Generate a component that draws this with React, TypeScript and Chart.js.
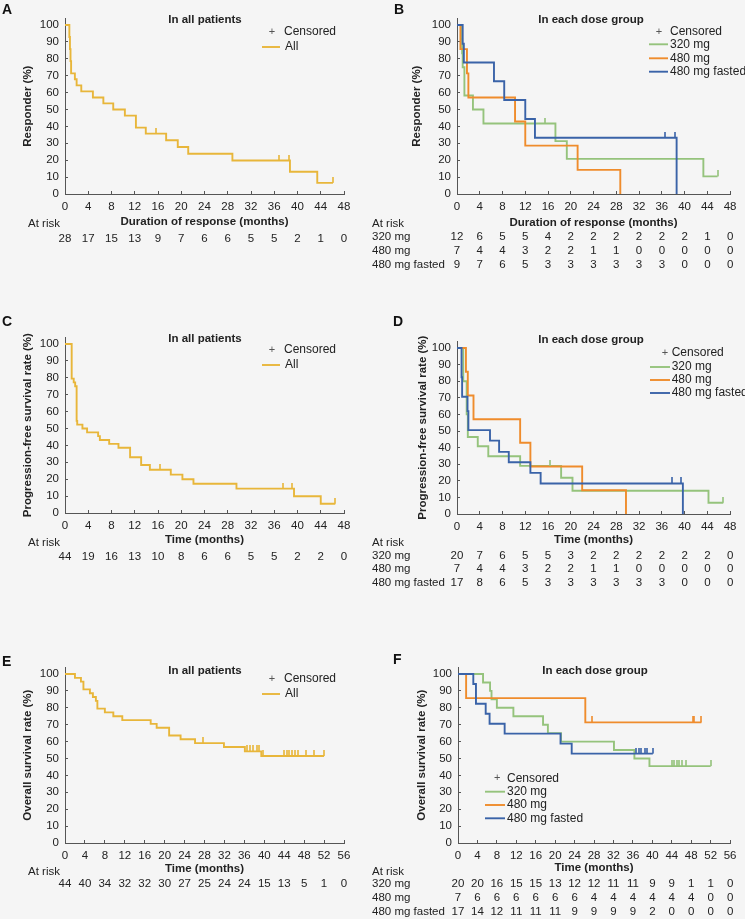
import React, { useEffect, useRef } from "react";
import { Chart, registerables } from "chart.js";

Chart.register(...registerables);

const FONT = '"Liberation Sans", Arial, Helvetica, sans-serif';
const BG = "#f5f5f5";
const AXIS = "#555555";
const TEXT = "#222222";

const C_ALL = "#e8b63a";
const C_320 = "#95c37c";
const C_480 = "#ef8c2c";
const C_FAST = "#3a63a8";

// ---- tick labels ----
const yTicks = [0, 10, 20, 30, 40, 50, 60, 70, 80, 90, 100];
const xTicks48 = [0, 4, 8, 12, 16, 20, 24, 28, 32, 36, 40, 44, 48];
const xTicks56 = [0, 4, 8, 12, 16, 20, 24, 28, 32, 36, 40, 44, 48, 52, 56];
const Y_MAX = 104;

// ---- Panel A: duration of response, all patients ----
const aTimes = [0, 0.75, 0.85, 0.95, 1.05, 1.7, 2.0, 2.8, 4.8, 6.6, 8.3, 10.3, 12.2, 13.9, 17.4, 19.4, 21.2, 28.8, 38.7, 43.4, 46.1];
const aSurv = [100, 92.9, 85.7, 78.6, 71.4, 67.9, 64.3, 60.7, 57.1, 53.6, 50.0, 46.4, 39.3, 35.7, 31.8, 27.8, 23.8, 19.8, 13.2, 6.6, 6.6];
const aCens = [15.6, 36.8, 38.5, 46.1];
const aRisk = [28, 17, 15, 13, 9, 7, 6, 6, 5, 5, 2, 1, 0];

// ---- Panel B: duration of response, dose groups ----
const b320Times = [0, 0.7, 0.9, 1.0, 1.3, 2.8, 4.65, 17.3, 19.3, 43.3, 45.8];
const b320Surv = [100, 91.7, 83.3, 75.0, 58.3, 50.0, 41.7, 31.3, 20.8, 10.4, 10.4];
const b320Cens = [15.5, 45.8];
const b480Times = [0, 0.6, 1.75, 2.0, 10.2, 12.0, 21.2, 28.7];
const b480Surv = [100, 85.7, 71.4, 57.1, 42.9, 28.6, 14.3, 0];
const b480Cens: number[] = [];
const bFastTimes = [0, 1.0, 1.2, 6.5, 8.3, 12.0, 13.7, 38.6];
const bFastSurv = [100, 88.9, 77.8, 66.7, 55.6, 44.4, 33.3, 0];
const bFastCens = [36.6, 38.3];
const bRisk320 = [12, 6, 5, 5, 4, 2, 2, 2, 2, 2, 2, 1, 0];
const bRisk480 = [7, 4, 4, 3, 2, 2, 1, 1, 0, 0, 0, 0, 0];
const bRiskFast = [9, 7, 6, 5, 3, 3, 3, 3, 3, 3, 0, 0, 0];

// ---- Panel C: PFS, all patients ----
const cTimes = [0, 1.15, 1.5, 1.75, 2.0, 2.1, 3.0, 3.8, 5.7, 6.0, 7.6, 9.2, 11.2, 13.1, 14.6, 18.2, 20.2, 22.1, 29.5, 39.4, 44.0, 46.5];
const cSurv = [100, 79.5, 77.3, 75.0, 54.5, 52.3, 50.0, 47.7, 45.5, 43.2, 40.9, 38.6, 33.0, 28.4, 25.6, 22.7, 20.0, 17.3, 14.4, 9.9, 5.5, 5.5];
const cCens = [16.4, 37.5, 39.1, 46.5];
const cRisk = [44, 19, 16, 13, 10, 8, 6, 6, 5, 5, 2, 2, 0];

// ---- Panel D: PFS, dose groups ----
const d320Times = [0, 1.1, 1.7, 1.9, 3.65, 5.5, 11.1, 18.3, 20.3, 44.2, 46.8];
const d320Surv = [100, 80.0, 60.0, 46.4, 40.8, 34.8, 29.0, 21.8, 14.0, 6.8, 6.8];
const d320Cens = [16.3, 46.8];
const d480Times = [0, 1.57, 1.9, 2.9, 11.1, 12.9, 22.0, 29.7];
const d480Surv = [100, 85.7, 71.4, 57.1, 42.9, 28.6, 14.3, 0];
const d480Cens: number[] = [];
const dFastTimes = [0, 0.8, 0.9, 1.85, 2.0, 5.8, 7.4, 9.1, 12.9, 14.7, 39.7];
const dFastSurv = [100, 82.4, 70.6, 62.0, 50.5, 44.2, 37.4, 31.2, 24.8, 18.4, 0];
const dFastCens = [37.7, 39.3];
const dRisk320 = [20, 7, 6, 5, 5, 3, 2, 2, 2, 2, 2, 2, 0];
const dRisk480 = [7, 4, 4, 3, 2, 2, 1, 1, 0, 0, 0, 0, 0];
const dRiskFast = [17, 8, 6, 5, 3, 3, 3, 3, 3, 3, 0, 0, 0];

// ---- Panel E: OS, all patients ----
const eTimes = [0, 2.0, 3.2, 3.7, 5.0, 5.6, 6.2, 6.5, 8.0, 9.7, 11.5, 17.2, 18.4, 20.9, 23.2, 26.1, 31.9, 36.1, 39.4, 52.0];
const eSurv = [100, 97.7, 95.5, 90.9, 88.6, 86.4, 84.1, 79.5, 77.3, 75.0, 72.7, 70.5, 68.2, 63.6, 61.4, 59.1, 56.8, 54.2, 51.5, 51.5];
const eCens = [27.6, 36.6, 37.2, 37.7, 38.5, 39.0, 39.8, 44.0, 44.5, 45.0, 45.6, 46.2, 46.7, 48.4, 50.0, 52.0];
const eRisk = [44, 40, 34, 32, 32, 30, 27, 25, 24, 24, 15, 13, 5, 1, 0];

// ---- Panel F: OS, dose groups ----
const f320Times = [0, 5.15, 6.6, 6.9, 8.0, 11.4, 17.5, 18.5, 21.2, 32.1, 36.3, 39.4, 52.0];
const f320Surv = [100, 95, 90, 85, 80, 75, 70, 65, 60, 55, 50, 45.5, 45.5];
const f320Cens = [44.0, 44.5, 45.0, 45.5, 46.0, 46.9, 52.0];
const f480Times = [0, 1.67, 26.2, 50.1];
const f480Surv = [100, 85.7, 71.4, 71.4];
const f480Cens = [27.6, 48.3, 48.6, 50.1];
const fFastTimes = [0, 3.15, 3.7, 5.7, 6.5, 9.6, 21.1, 23.4, 40.1];
const fFastSurv = [100, 94.1, 82.4, 76.5, 70.6, 64.7, 58.8, 52.9, 52.9];
const fFastCens = [36.7, 37.2, 37.7, 38.4, 38.9, 40.1];
const fRisk320 = [20, 20, 16, 15, 15, 13, 12, 12, 11, 11, 9, 9, 1, 1, 0];
const fRisk480 = [7, 6, 6, 6, 6, 6, 6, 4, 4, 4, 4, 4, 4, 0, 0];
const fRiskFast = [17, 14, 12, 11, 11, 11, 9, 9, 9, 9, 2, 0, 0, 0, 0];

type Series = { label: string; color: string; times: number[]; surv: number[]; cens: number[] };
type Panel = {
  letter: string;
  title: string;
  yTitle: string;
  xTitle: string;
  xTicks: number[];
  series: Series[];
  risk: number[][];
  riskLabels: string[] | null;
  off: [number, number];
  size: [number, number];
  area: { L: number; R: number; B: number; Y100: number };
  yTitleX: number;
  xTitleY: number;
  letterPos: [number, number];
  titlePos: [number, number];
  legend: { plusX: number; plusY: number; textX: number; lineX1: number; lineX2: number; rowY: number[] };
  riskPos: { atX: number; atY: number; labelX: number; rowY: number[] };
};

const GROUP_LABELS = ["320 mg", "480 mg", "480 mg fasted"];

const PANELS: Panel[] = [
  {
    letter: "A", title: "In all patients", yTitle: "Responder (%)", xTitle: "Duration of response (months)",
    xTicks: xTicks48,
    series: [{ label: "All", color: C_ALL, times: aTimes, surv: aSurv, cens: aCens }],
    risk: [aRisk], riskLabels: null,
    off: [0, 0], size: [370, 300], area: { L: 65, R: 344, B: 194, Y100: 25 },
    yTitleX: 28.3, xTitleY: 222, letterPos: [2, 10], titlePos: [205, 20],
    legend: { plusX: 272, plusY: 32, textX: 284, lineX1: 262, lineX2: 280, rowY: [47] },
    riskPos: { atX: 28, atY: 224, labelX: 28, rowY: [239] },
  },
  {
    letter: "B", title: "In each dose group", yTitle: "Responder (%)", xTitle: "Duration of response (months)",
    xTicks: xTicks48,
    series: [
      { label: "320 mg", color: C_320, times: b320Times, surv: b320Surv, cens: b320Cens },
      { label: "480 mg", color: C_480, times: b480Times, surv: b480Surv, cens: b480Cens },
      { label: "480 mg fasted", color: C_FAST, times: bFastTimes, surv: bFastSurv, cens: bFastCens },
    ],
    risk: [bRisk320, bRisk480, bRiskFast], riskLabels: GROUP_LABELS,
    off: [370, 0], size: [375, 300], area: { L: 457, R: 732, B: 194, Y100: 25 },
    yTitleX: 416.7, xTitleY: 222.7, letterPos: [394, 10], titlePos: [591, 20],
    legend: { plusX: 659, plusY: 31.7, textX: 670, lineX1: 649, lineX2: 668, rowY: [44.3, 58.3, 71.7] },
    riskPos: { atX: 372, atY: 224, labelX: 372, rowY: [237, 251, 265] },
  },
  {
    letter: "C", title: "In all patients", yTitle: "Progression-free survival rate (%)", xTitle: "Time (months)",
    xTicks: xTicks48,
    series: [{ label: "All", color: C_ALL, times: cTimes, surv: cSurv, cens: cCens }],
    risk: [cRisk], riskLabels: null,
    off: [0, 300], size: [370, 300], area: { L: 65, R: 344, B: 513, Y100: 344 },
    yTitleX: 28.3, xTitleY: 540, letterPos: [2, 322], titlePos: [205, 339],
    legend: { plusX: 272, plusY: 350, textX: 284, lineX1: 262, lineX2: 280, rowY: [365] },
    riskPos: { atX: 28, atY: 542.7, labelX: 28, rowY: [557.3] },
  },
  {
    letter: "D", title: "In each dose group", yTitle: "Progression-free survival rate (%)", xTitle: "Time (months)",
    xTicks: xTicks48,
    series: [
      { label: "320 mg", color: C_320, times: d320Times, surv: d320Surv, cens: d320Cens },
      { label: "480 mg", color: C_480, times: d480Times, surv: d480Surv, cens: d480Cens },
      { label: "480 mg fasted", color: C_FAST, times: dFastTimes, surv: dFastSurv, cens: dFastCens },
    ],
    risk: [dRisk320, dRisk480, dRiskFast], riskLabels: GROUP_LABELS,
    off: [370, 300], size: [375, 300], area: { L: 457, R: 733, B: 514, Y100: 348 },
    yTitleX: 423.3, xTitleY: 540, letterPos: [393, 322], titlePos: [591, 340],
    legend: { plusX: 665, plusY: 353, textX: 671.7, lineX1: 650, lineX2: 670, rowY: [367, 380, 393] },
    riskPos: { atX: 372, atY: 543, labelX: 372, rowY: [556, 569.3, 583.3] },
  },
  {
    letter: "E", title: "In all patients", yTitle: "Overall survival rate (%)", xTitle: "Time (months)",
    xTicks: xTicks56,
    series: [{ label: "All", color: C_ALL, times: eTimes, surv: eSurv, cens: eCens }],
    risk: [eRisk], riskLabels: null,
    off: [0, 600], size: [370, 319], area: { L: 65, R: 344, B: 843, Y100: 674 },
    yTitleX: 28.3, xTitleY: 869.3, letterPos: [2, 662], titlePos: [205, 671],
    legend: { plusX: 272, plusY: 679, textX: 284, lineX1: 262, lineX2: 280, rowY: [694] },
    riskPos: { atX: 28, atY: 871.7, labelX: 28, rowY: [884.3] },
  },
  {
    letter: "F", title: "In each dose group", yTitle: "Overall survival rate (%)", xTitle: "Time (months)",
    xTicks: xTicks56,
    series: [
      { label: "320 mg", color: C_320, times: f320Times, surv: f320Surv, cens: f320Cens },
      { label: "480 mg", color: C_480, times: f480Times, surv: f480Surv, cens: f480Cens },
      { label: "480 mg fasted", color: C_FAST, times: fFastTimes, surv: fFastSurv, cens: fFastCens },
    ],
    risk: [fRisk320, fRisk480, fRiskFast], riskLabels: GROUP_LABELS,
    off: [370, 600], size: [375, 319], area: { L: 458, R: 737, B: 843, Y100: 674 },
    yTitleX: 421.7, xTitleY: 868.3, letterPos: [393, 660], titlePos: [595, 670.7],
    legend: { plusX: 497.3, plusY: 778.3, textX: 507, lineX1: 485, lineX2: 505, rowY: [791.7, 805, 818.3] },
    riskPos: { atX: 372, atY: 872, labelX: 372, rowY: [884.3, 897.7, 911.7] },
  },
];

function stepValueAt(times: number[], surv: number[], t: number): number {
  let v = surv[0];
  for (let i = 0; i < times.length; i++) {
    if (times[i] <= t) v = surv[i];
  }
  return v;
}

function censorMark(color: string): HTMLCanvasElement {
  const c = document.createElement("canvas");
  c.width = 2;
  c.height = 12;
  const g = c.getContext("2d")!;
  g.fillStyle = color;
  g.fillRect(0.2, 0, 1.6, 6);
  return c;
}

const FS = 11.5;
const LH = FS * 1.2;

function KMPanel({ panel }: { panel: Panel }) {
  const ref = useRef<HTMLCanvasElement | null>(null);
  const [ox, oy] = panel.off;
  const [W, H] = panel.size;

  useEffect(() => {
    const cv = ref.current;
    if (!cv) return;
    const xMax = panel.xTicks[panel.xTicks.length - 1];
    const L = panel.area.L - ox;
    const R = panel.area.R - ox;
    const Bt = panel.area.B - oy;
    const y100 = panel.area.Y100 - oy;
    const top = Bt - (Bt - y100) * (Y_MAX / 100);
    const yScaleLeft = panel.yTitleX - ox - LH / 2;
    const yW = L - yScaleLeft;
    const xH = panel.xTitleY - oy + LH / 2 - Bt;

    const datasets: any[] = [];
    const n = panel.series.length;
    panel.series.forEach((s, i) => {
      datasets.push({
        type: "line",
        label: s.label,
        data: s.times.map((t, k) => ({ x: t, y: s.surv[k] })),
        borderColor: s.color,
        backgroundColor: s.color,
        borderWidth: 1.9,
        stepped: "before",
        pointRadius: 0,
        pointHitRadius: 0,
        fill: false,
        order: n - i + 10,
      });
      datasets.push({
        type: "line",
        label: s.label + " censored",
        data: s.cens.map((t) => ({ x: t, y: stepValueAt(s.times, s.surv, t) })),
        showLine: false,
        pointStyle: censorMark(s.color),
        pointRadius: 3,
        pointHoverRadius: 3,
        borderColor: s.color,
        backgroundColor: s.color,
        order: n - i,
      });
    });

    const decor = {
      id: "decor" + panel.letter,
      beforeDraw(chart: any) {
        const ctx = chart.ctx;
        ctx.save();
        ctx.fillStyle = BG;
        ctx.fillRect(0, 0, chart.width, chart.height);
        ctx.restore();
      },
      afterDraw(chart: any) {
        const ctx = chart.ctx;
        const xs = chart.scales.x;
        ctx.save();
        // panel letter
        ctx.fillStyle = "#111111";
        ctx.font = `bold 14px ${FONT}`;
        ctx.textAlign = "left";
        ctx.textBaseline = "middle";
        ctx.fillText(panel.letter, panel.letterPos[0] - ox, panel.letterPos[1] - oy);
        // panel title
        ctx.fillStyle = TEXT;
        ctx.font = `bold ${FS}px ${FONT}`;
        ctx.textAlign = "center";
        ctx.fillText(panel.title, panel.titlePos[0] - ox, panel.titlePos[1] - oy);
        // legend
        const lg = panel.legend;
        ctx.font = `11px ${FONT}`;
        ctx.fillStyle = "#555555";
        ctx.textAlign = "center";
        ctx.fillText("+", lg.plusX - ox, lg.plusY - oy);
        ctx.font = `12px ${FONT}`;
        ctx.fillStyle = TEXT;
        ctx.textAlign = "left";
        ctx.fillText("Censored", lg.textX - ox, lg.plusY - oy);
        panel.series.forEach((s, i) => {
          const ry = lg.rowY[i] - oy;
          ctx.strokeStyle = s.color;
          ctx.lineWidth = 1.9;
          ctx.beginPath();
          ctx.moveTo(lg.lineX1 - ox, ry);
          ctx.lineTo(lg.lineX2 - ox, ry);
          ctx.stroke();
          ctx.fillStyle = TEXT;
          ctx.fillText(s.label, lg.textX - ox + (n === 1 ? 1 : 0), ry);
        });
        // at risk table
        const rp = panel.riskPos;
        ctx.font = `${FS}px ${FONT}`;
        ctx.fillStyle = TEXT;
        ctx.textAlign = "left";
        ctx.fillText("At risk", rp.atX - ox, rp.atY - oy);
        panel.risk.forEach((row, i) => {
          const ry = rp.rowY[i] - oy;
          if (panel.riskLabels) {
            ctx.textAlign = "left";
            ctx.fillText(panel.riskLabels[i], rp.labelX - ox, ry);
          }
          ctx.textAlign = "center";
          row.forEach((v, j) => {
            const px = xs.getPixelForValue(panel.xTicks[j]);
            ctx.fillText(String(v), px, ry);
          });
        });
        ctx.restore();
      },
    };

    const chart = new Chart(cv, {
      type: "line",
      data: { datasets },
      options: {
        responsive: false,
        maintainAspectRatio: false,
        animation: false,
        devicePixelRatio: 1,
        events: [],
        layout: {
          padding: { left: yScaleLeft, right: W - R, top: top, bottom: H - Bt - xH },
        },
        plugins: {
          legend: { display: false },
          tooltip: { enabled: false },
          title: { display: false },
        },
        scales: {
          x: {
            type: "linear",
            min: 0,
            max: xMax,
            afterBuildTicks: (s: any) => {
              s.ticks = panel.xTicks.map((v) => ({ value: v }));
            },
            afterFit: (s: any) => {
              s.height = xH;
            },
            grid: { display: true, drawOnChartArea: false, drawTicks: true, tickLength: -3, color: AXIS, lineWidth: 1 },
            border: { display: true, color: AXIS, width: 1 },
            ticks: {
              padding: 8.5,
              maxRotation: 0,
              autoSkip: false,
              color: TEXT,
              font: { family: FONT, size: FS },
              callback: (v: any) => String(v),
            },
            title: {
              display: true,
              text: panel.xTitle,
              color: TEXT,
              padding: 0,
              font: { family: FONT, size: FS, weight: "bold" },
            },
          },
          y: {
            type: "linear",
            min: 0,
            max: Y_MAX,
            afterBuildTicks: (s: any) => {
              s.ticks = yTicks.map((v) => ({ value: v }));
            },
            afterFit: (s: any) => {
              s.width = yW;
            },
            grid: { display: true, drawOnChartArea: false, drawTicks: true, tickLength: -3, color: AXIS, lineWidth: 1 },
            border: { display: true, color: AXIS, width: 1 },
            ticks: {
              padding: 9,
              autoSkip: false,
              color: TEXT,
              font: { family: FONT, size: FS },
              callback: (v: any) => String(v),
            },
            title: {
              display: true,
              text: panel.yTitle,
              color: TEXT,
              padding: 0,
              font: { family: FONT, size: FS, weight: "bold" },
            },
          },
        },
      } as any,
      plugins: [decor],
    });
    return () => chart.destroy();
  }, [panel]);

  return (
    <canvas
      ref={ref}
      width={W}
      height={H}
      style={{ position: "absolute", left: ox, top: oy, width: W, height: H }}
    />
  );
}

export default function App() {
  return (
    <div
      style={{
        position: "absolute",
        left: 0,
        top: 0,
        width: 745,
        height: 919,
        background: BG,
        overflow: "hidden",
      }}
    >
      {PANELS.map((p) => (
        <KMPanel key={p.letter} panel={p} />
      ))}
    </div>
  );
}
